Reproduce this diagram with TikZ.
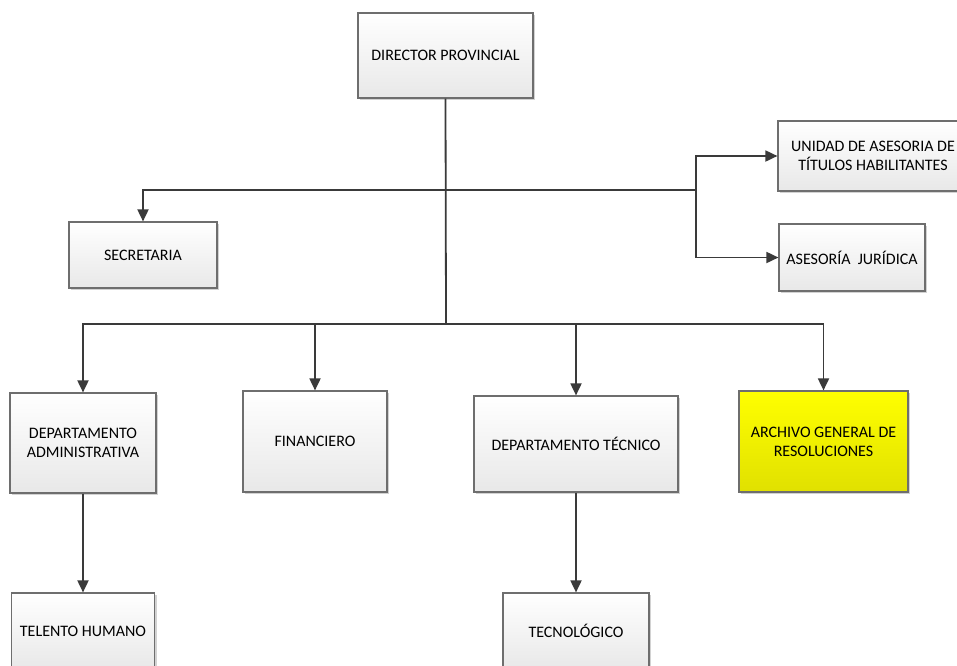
\documentclass[tikz,border=0pt]{standalone}
\usepackage{fontspec}
\setmainfont{Carlito}
\usetikzlibrary{arrows.meta,shadows}
\definecolor{linea}{HTML}{3A3A3A}
\definecolor{borde}{HTML}{6E6E6E}
\tikzset{
  caja/.style={draw=borde, line width=1.2pt, rectangle, align=center,
    top color=white, bottom color=gray!18, inner sep=2pt,
    drop shadow={shadow xshift=2pt, shadow yshift=-2pt, opacity=0.35},
    font=\fontsize{16}{19}\selectfont},
  conector/.style={draw=linea, line width=1.8pt,
    -{Triangle[length=12pt,width=11pt]}},
  tramo/.style={draw=linea, line width=1.8pt}
}
\begin{document}
\begin{tikzpicture}[x=1pt,y=-1pt]
  \useasboundingbox[fill=white] (0,0) rectangle (957,665);
  \node[caja, minimum width=175pt, minimum height=85pt] (dir) at (445.5,55.5) {DIRECTOR PROVINCIAL};
  \node[caja, minimum width=148pt, minimum height=66pt] (sec) at (143,255) {SECRETARIA};
  \node[caja, minimum width=190pt, minimum height=70pt] (uni) at (873,156) {UNIDAD DE ASESORIA DE\\TÍTULOS HABILITANTES};
  \node[caja, minimum width=146pt, minimum height=67pt] (ase) at (852,257.5) {ASESORÍA\ \ JURÍDICA};
  \node[caja, minimum width=146pt, minimum height=100pt] (adm) at (83,443) {DEPARTAMENTO\\ADMINISTRATIVA};
  \node[caja, minimum width=144pt, minimum height=101pt] (fin) at (315,441.5) {FINANCIERO};
  \node[caja, minimum width=204pt, minimum height=96pt] (tec) at (576,444) {DEPARTAMENTO TÉCNICO};
  \node[caja, top color=yellow, bottom color=yellow!88!black, minimum width=169pt, minimum height=101pt] (arc) at (823.5,441.5) {ARCHIVO GENERAL DE\\RESOLUCIONES};
  \node[caja, minimum width=143pt, minimum height=76pt] (tal) at (83,631) {TELENTO HUMANO};
  \node[caja, minimum width=146pt, minimum height=76pt] (tcn) at (576,631) {TECNOLÓGICO};
  \coordinate (b1) at (446,190);
  \coordinate (b2) at (446,324);
  \coordinate (rj) at (696,190);
  \draw[tramo] (dir.south) -- (b2);
  \draw[conector] (b1) -| (sec.north);
  \draw[tramo] (b1) -- (rj);
  \draw[conector] (rj) |- (uni.west);
  \draw[conector] (rj) |- (ase.west);
  \draw[conector] (b2) -| (adm.north);
  \draw[conector] (b2) -| (fin.north);
  \draw[conector] (b2) -| (tec.north);
  \draw[conector] (b2) -| (arc.north);
  \draw[conector] (adm.south) -- (tal.north);
  \draw[conector] (tec.south) -- (tcn.north);
\end{tikzpicture}
\end{document}
